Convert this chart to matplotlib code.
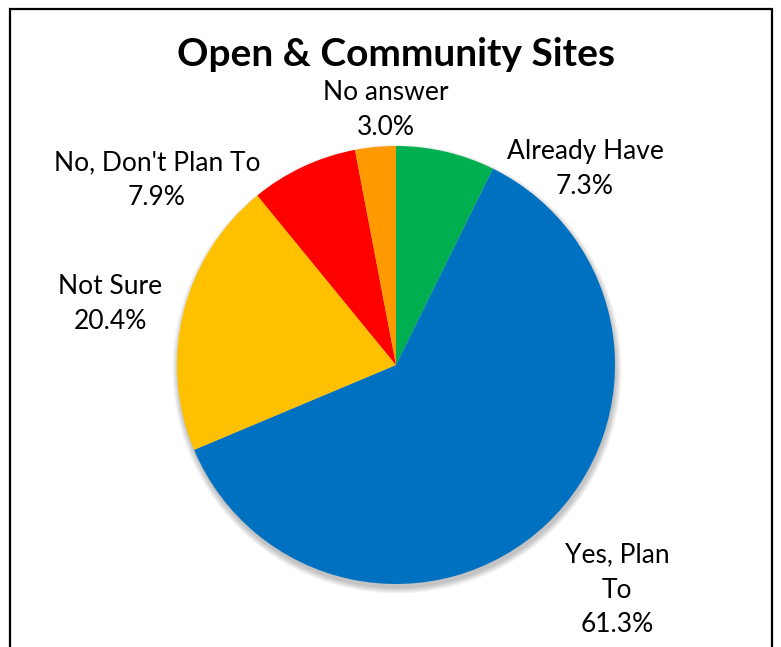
import matplotlib
matplotlib.use("Agg")
import matplotlib.pyplot as plt
from matplotlib.patches import Circle

TITLE = "Open & Community Sites"
labels = ["Already Have", "Yes, Plan\nTo", "Not Sure", "No, Don't Plan To", "No answer"]
values = [7.3, 61.3, 20.4, 7.9, 3.0]
colors = ["#00B050", "#0070C0", "#FFC000", "#FF0000", "#FF9A00"]

W, H = 781, 647
# label anchor (centre of the text block), in pixels from top-left
label_xy = [(585, 169), (617, 590), (110, 304), (157, 180), (386, 110)]

fig = plt.figure(figsize=(W / 100, H / 100), dpi=100)
ax = fig.add_axes([0, 0, 1, 1])

cx, cy, r = 396, H - 365, 219

# soft drop shadow below the pie
for k in range(8):
    ax.add_patch(Circle((cx + 1, cy - 4), r + k * 0.8, color="black",
                        alpha=0.03, lw=0, zorder=1))

ax.pie(values, colors=colors, startangle=90, counterclock=False,
       center=(cx, cy), radius=r, frame=True,
       wedgeprops=dict(linewidth=0, zorder=2))
ax.set_xlim(0, W)
ax.set_ylim(0, H)
ax.set_aspect("equal")
ax.axis("off")

font = "Lato"
for lab, val, (x, y) in zip(labels, values, label_xy):
    ax.text(x, H - y, f"{lab}\n{val:.1f}%", ha="center", va="center",
            fontsize=19, family=font, linespacing=1.5, color="#000000")

ax.text(396, H - 55, TITLE, ha="center", va="center", fontsize=28,
        fontweight="bold", family=font)

# chart border (bottom runs off the image)
ax.plot([10, 10, 772, 772], [-5, H - 9, H - 9, -5], color="black", lw=1.6,
        solid_joinstyle="miter")

fig.savefig("out.png", dpi=100)
